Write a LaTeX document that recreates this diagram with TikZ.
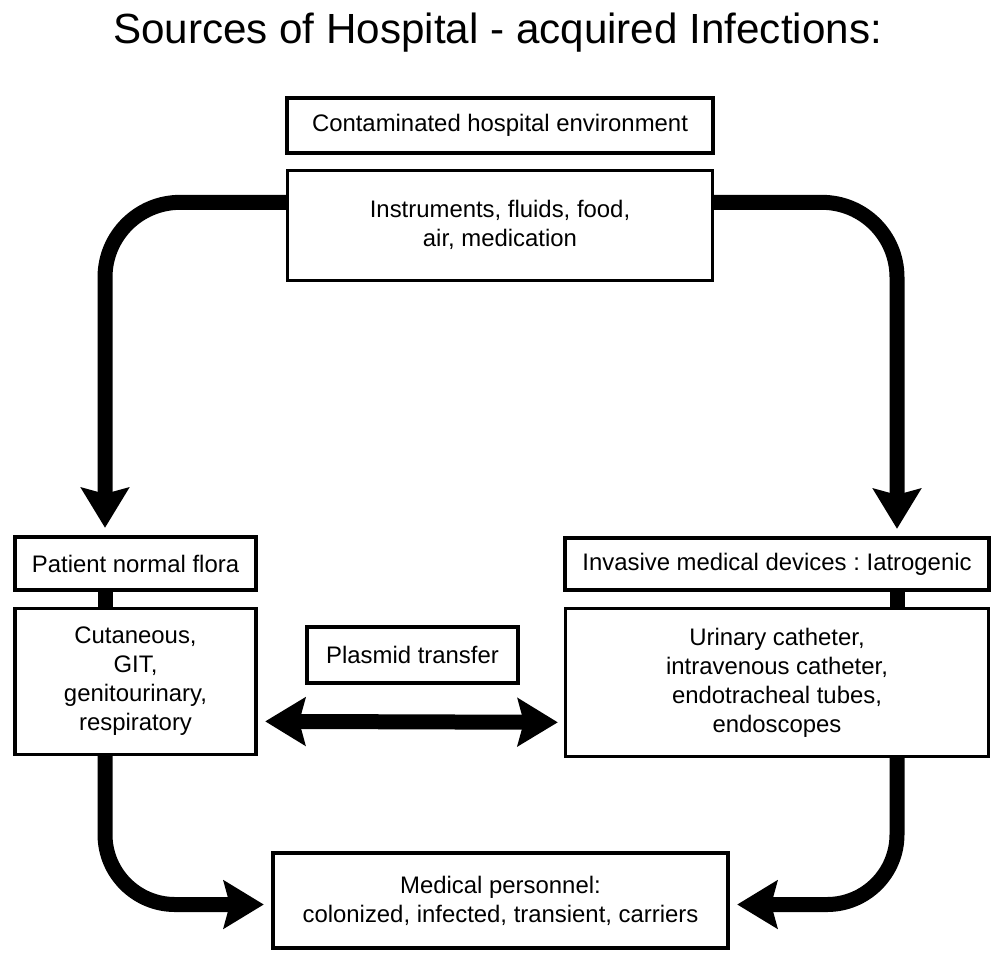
\documentclass[tikz,border=0pt]{standalone}
\usepackage{fontspec}
\setmainfont{Liberation Sans}
\usetikzlibrary{arrows.meta, positioning}

\begin{document}
\frenchspacing
\begin{tikzpicture}[
  box/.style={rectangle, draw, line width=1.9pt, align=center, inner sep=2pt, font=\fontsize{13.6}{16.5}\selectfont},
  bigtip/.tip={Stealth[length=0.8cm, width=0.95cm, inset=0.12cm]},
  flow/.style={line width=0.3cm, rounded corners=1.5cm, -bigtip, shorten >=0.15cm},
  link/.style={line width=0.3cm},
  swap/.style={line width=0.3cm, bigtip-bigtip, shorten <=0.15cm, shorten >=0.12cm}
]
  \useasboundingbox (0,0) rectangle (19.86,-19.04);
  % Title
  \node[anchor=base, font=\fontsize{24}{28}\selectfont] (title) at (9.95,-0.86) {Sources of Hospital - acquired Infections:};
  % Hospital environment
  \node[box, minimum width=8.52cm, minimum height=1.1cm] (env) at (10.0,-2.51) {Contaminated hospital environment};
  \node[box, minimum width=8.5cm, minimum height=2.2cm, below=0.28cm of env] (envsrc) {Instruments, fluids, food,\\air, medication};
  % Patient flora
  \node[box, minimum width=4.82cm, minimum height=1.06cm] (flora) at (2.71,-11.27) {Patient normal flora};
  \node[box, minimum width=4.82cm, minimum height=2.92cm, below=0.3cm of flora] (cut) {Cutaneous,\\GIT,\\genitourinary,\\respiratory};
  % Devices
  \node[box, minimum width=8.48cm, minimum height=1.04cm] (dev) at (15.54,-11.28) {Invasive medical devices : Iatrogenic};
  \node[box, minimum width=8.46cm, minimum height=2.96cm, below=0.3cm of dev] (devsrc) {Urinary catheter,\\intravenous catheter,\\endotracheal tubes,\\endoscopes};
  % Plasmid
  \node[box, minimum width=4.22cm, minimum height=1.12cm] (plasmid) at (8.25,-13.1) {Plasmid transfer};
  % Personnel
  \node[box, minimum width=9.1cm, minimum height=1.9cm] (med) at (10.01,-18.01) {Medical personnel:\\colonized, infected, transient, carriers};
  % Arrows
  \draw[flow] ([yshift=0.46cm]envsrc.west) -| ([xshift=-0.61cm]flora.north);
  \draw[flow] ([yshift=0.46cm]envsrc.east) -| ([xshift=2.4cm]dev.north);
  \draw[link] ([xshift=-0.61cm]flora.south) -- ([xshift=-0.61cm]cut.north);
  \draw[link] ([xshift=2.4cm]dev.south) -- ([xshift=2.4cm]devsrc.north);
  \draw[swap] ([yshift=-0.8cm]cut.east) -- ([yshift=-0.8cm]devsrc.west);
  \draw[flow, rounded corners=1.4cm] ([xshift=-0.61cm]cut.south) |- ([yshift=-0.08cm]med.west);
  \draw[flow, rounded corners=1.4cm] ([xshift=2.4cm]devsrc.south) |- ([yshift=-0.08cm]med.east);
\end{tikzpicture}
\end{document}
